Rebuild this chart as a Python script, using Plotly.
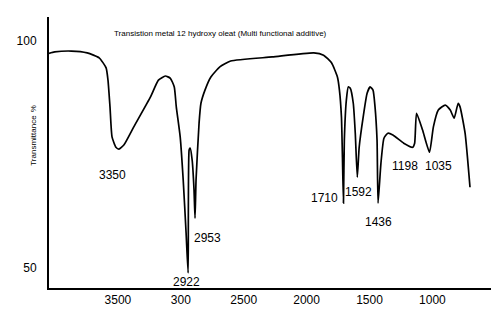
import plotly.graph_objects as go

# IR spectrum trace (wavenumber cm-1, % transmittance)
wavenumber = [4048, 4003, 3870, 3744, 3649, 3594, 3579, 3563, 3547, 3516, 3492, 3453, 3374,
              3241, 3178, 3123, 3083, 3052, 3036, 3005, 2981, 2958, 2942, 2934, 2926, 2910,
              2895, 2887, 2879, 2855, 2840, 2808, 2761, 2690, 2604, 2274, 1943, 1865, 1802,
              1755, 1739, 1723, 1715, 1707, 1700, 1684, 1668, 1653, 1629, 1613, 1597, 1582,
              1550, 1519, 1495, 1472, 1456, 1440, 1432, 1409, 1385, 1354, 1314, 1228, 1157,
              1141, 1126, 1078, 1023, 992, 953, 898, 858, 827, 795, 780, 740, 701]
transmittance = [97.3, 97.6, 97.8, 97.4, 96.3, 94.1, 91.4, 85.5, 78.9, 76.6, 76.2, 77.1, 81.1,
                 87.7, 91.4, 92.3, 91.8, 89.9, 85.5, 78.9, 69.4, 57.7, 48.9, 76.0, 76.4, 73.8,
                 67.2, 61.0, 69.4, 81.9, 86.3, 89.2, 92.1, 94.3, 95.6, 96.5, 97.4, 96.9, 95.2,
                 92.1, 89.2, 83.3, 74.4, 64.3, 78.2, 87.0, 89.9, 89.6, 86.3, 79.7, 70.0, 76.6,
                 83.3, 88.5, 89.9, 89.2, 85.5, 78.2, 64.3, 73.1, 78.6, 79.7, 79.3, 77.5, 76.6,
                 77.5, 84.1, 80.4, 75.5, 81.1, 84.8, 85.9, 84.8, 83.0, 86.3, 85.5, 79.7, 67.8]

# peak labels: text, label position (wavenumber, transmittance)
peak_labels = ["3350", "2953", "2922", "1710", "1592", "1436", "1198", "1035"]
peak_label_x = [3547, 2785, 2958, 1857, 1590, 1432, 1220, 953]
peak_label_y = [70.5, 56.6, 46.9, 65.4, 66.7, 60.1, 72.5, 72.5]

x_tick_vals = [3500, 3000, 2500, 2000, 1500, 1000]
x_tick_text = ["3500", "300", "2500", "2000", "1500", "1000"]
y_tick_vals = [100, 50]
y_tick_text = ["100", "50"]

FONT = "Liberation Sans, Arial, sans-serif"

fig = go.Figure()
fig.add_trace(go.Scatter(
    x=wavenumber, y=transmittance, mode="lines",
    line=dict(color="black", width=1.7, shape="spline", smoothing=0.5),
    hoverinfo="skip", showlegend=False,
))

annotations = []
for t, x, y in zip(peak_labels, peak_label_x, peak_label_y):
    annotations.append(dict(x=x, y=y, xref="x", yref="y", text=t, showarrow=False,
                            font=dict(family=FONT, size=12, color="black")))

annotations.append(dict(x=(217 - 44) / 447, y=(288 - 27) / 271, xref="paper", yref="paper",
                        text="Transistion metal 12 hydroxy oleat (Multi functional additive)",
                        showarrow=False, font=dict(family=FONT, size=8, color="black")))
annotations.append(dict(x=(21 - 44) / 447, y=(288 - 140) / 271, xref="paper", yref="paper",
                        text="Transmittance", textangle=-90, showarrow=False,
                        font=dict(family=FONT, size=8, color="black")))
annotations.append(dict(x=(22 - 44) / 447, y=(288 - 103) / 271, xref="paper", yref="paper",
                        text="%", textangle=-90, showarrow=False,
                        font=dict(family=FONT, size=8, color="black")))

# the page body adds an 8px margin, so the figure is 8px smaller and margins shifted
fig.update_layout(
    width=492, height=316,
    margin=dict(l=36, r=9, t=9, b=36),
    paper_bgcolor="white", plot_bgcolor="white",
    font=dict(family=FONT, size=12, color="black"),
    annotations=annotations,
    xaxis=dict(range=[4048, 534], showgrid=False, zeroline=False,
               showline=True, linecolor="black", linewidth=2,
               ticks="", tickvals=x_tick_vals, ticktext=x_tick_text,
               tickfont=dict(family=FONT, size=12, color="black")),
    yaxis=dict(range=[45.6, 105.3], showgrid=False, zeroline=False,
               showline=True, linecolor="black", linewidth=2,
               ticks="", tickvals=y_tick_vals, ticktext=y_tick_text,
               ticklabelstandoff=8,
               tickfont=dict(family=FONT, size=12, color="black")),
)

fig.write_html("out.html")
